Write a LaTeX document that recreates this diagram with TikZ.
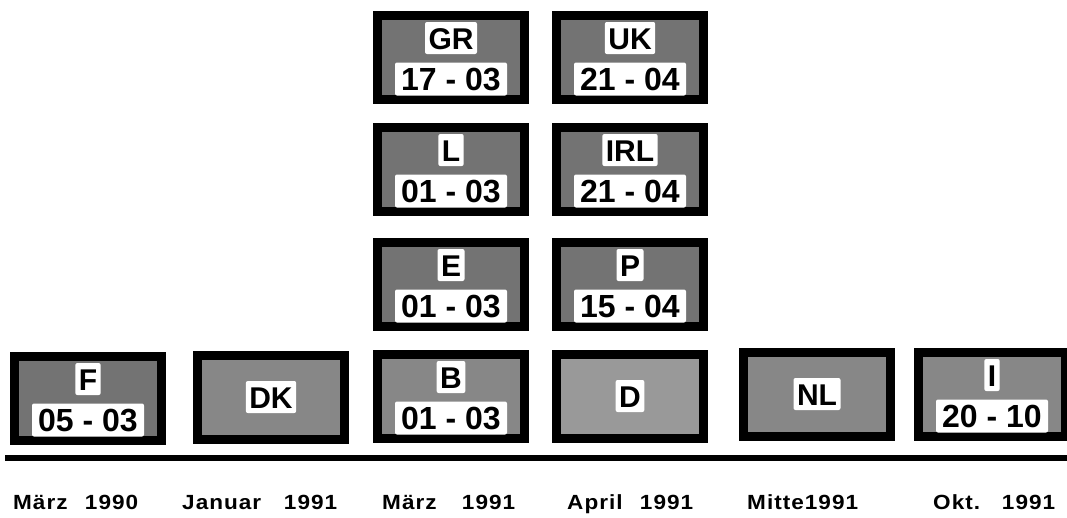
\documentclass[tikz,border=0pt]{standalone}
\usepackage{fontspec}
\newfontfamily\platefont{Liberation Sans}
\newfontfamily\whenfont[LetterSpace=5,FakeStretch=1.1]{Liberation Sans}
\newcommand{\spread}[2]{\makebox[#1][s]{#2}}
\tikzset{
  plate/.style={draw=black, line width=9pt, fill=#1, minimum width=147pt,
    minimum height=84pt, inner sep=0pt},
  plate/.default=black!55,
  codebox/.style={fill=white, rounded corners=2pt, inner xsep=3.5pt, inner ysep=5pt,
    font=\platefont\bfseries\fontsize{30}{30}\selectfont, text height=22pt, text depth=0pt},
  datebox/.style={fill=white, rounded corners=2pt, minimum width=112pt, inner xsep=2pt,
    inner ysep=5pt, font=\platefont\bfseries\fontsize{32}{32}\selectfont,
    text height=23pt, text depth=0pt},
  when/.style={anchor=base west, inner sep=0pt,
    font=\whenfont\bfseries\fontsize{20.5}{20.5}\selectfont}
}
\begin{document}
\begin{tikzpicture}[x=1pt, y=-1pt]
    \useasboundingbox (0,0) rectangle (1067,517);
    % plates with date
    \foreach \n/\x/\y/\s/\d in {F/88/398/55/05 - 03, GR/451/57/55/17 - 03,
        UK/630/57/55/21 - 04, L/451/169/55/01 - 03, IRL/630/169/55/21 - 04,
        E/451/284/55/01 - 03, P/630/284/55/15 - 04, B/451/396/47/01 - 03,
        I/992/394/47/20 - 10}{
        \node[plate=black!\s] (\n) at (\x,\y) {};
        \node[codebox] (\n-code) at ([yshift=19pt]\n.center) {\n};
        \node[datebox] (\n-date) at ([yshift=-22pt]\n.center) {\d};
    }
    % plates without date
    \foreach \n/\x/\y/\s in {DK/271/397/47, D/630/396/40, NL/817/394/47}{
        \node[plate=black!\s] (\n) at (\x,\y) {};
        \node[codebox] (\n-code) at (\n.center) {\n};
    }
    % time line
    \coordinate (tl-start) at (5,458);
    \coordinate (tl-end) at (1067,458);
    \draw[line width=6pt] (tl-start) -- (tl-end);
    \foreach \n/\x/\w/\t in {m90/13/125pt/März 1990, j91/182/155pt/Januar 1991,
        m91/382/133pt/März 1991, a91/567/126pt/April 1991, o91/933/122pt/Okt. 1991}{
        \node[when] (\n) at (\x,509) {\spread{\w}{\t}};
    }
    \node[when] (mi91) at (747,509) {Mitte1991};
\end{tikzpicture}
\end{document}
